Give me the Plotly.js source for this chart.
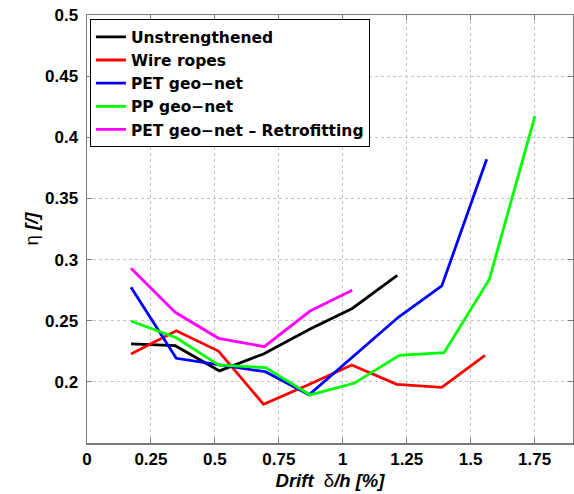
<!DOCTYPE html>
<html>
<head>
<meta charset="utf-8">
<script src="https://cdn.plot.ly/plotly-3.0.1.min.js"></script>
<style>
  html, body { margin: 0; padding: 0; background: #fff; }
  #chart { width: 574px; height: 494px; }
</style>
</head>
<body>
<div id="chart"></div>
<script>
// Drift ratio δ/h [%] and efficiency η [/] for each strengthening system
const seriesNames = ["Unstrengthened", "Wire ropes", "PET geo\u2212net", "PP geo\u2212net", "PET geo\u2212net \u2013 Retrofitting"];

const driftUnstrengthened = [0.172, 0.345, 0.518, 0.690, 0.872, 1.037, 1.213];
const etaUnstrengthened   = [0.231, 0.2296, 0.209, 0.2228, 0.2432, 0.260, 0.2871];

const driftWireRopes = [0.172, 0.349, 0.514, 0.690, 0.870, 1.035, 1.211, 1.387, 1.556];
const etaWireRopes   = [0.2228, 0.2418, 0.2252, 0.1817, 0.198, 0.2138, 0.198, 0.1955, 0.2217];

const driftPET = [0.172, 0.349, 0.518, 0.697, 0.868, 1.040, 1.217, 1.387, 1.5625];
const etaPET   = [0.2773, 0.2193, 0.2138, 0.2083, 0.1894, 0.2206, 0.2528, 0.2784, 0.382];

const driftPP = [0.172, 0.349, 0.514, 0.699, 0.872, 1.044, 1.221, 1.396, 1.573, 1.751];
const etaPP   = [0.2498, 0.2361, 0.2138, 0.2116, 0.1893, 0.1988, 0.2217, 0.2239, 0.2839, 0.4174];

const driftRetrofit = [0.172, 0.345, 0.514, 0.693, 0.872, 1.037];
const etaRetrofit   = [0.2929, 0.2569, 0.2356, 0.2288, 0.2579, 0.2749];

const xTickVals = [0, 0.25, 0.5, 0.75, 1, 1.25, 1.5, 1.75];
const xTickText = ["0", "0.25", "0.5", "0.75", "1", "1.25", "1.5", "1.75"];
const yTickVals = [0.2, 0.25, 0.3, 0.35, 0.4, 0.45, 0.5];
const yTickText = ["0.2", "0.25", "0.3", "0.35", "0.4", "0.45", "0.5"];

const colors = ["#000000", "#ff0000", "#0000ff", "#00ff00", "#ff00ff"];
const xs = [driftUnstrengthened, driftWireRopes, driftPET, driftPP, driftRetrofit];
const ys = [etaUnstrengthened, etaWireRopes, etaPET, etaPP, etaRetrofit];

const FONT = "Liberation Sans, Arial, Helvetica, sans-serif";
const LEGEND_FONT = "DejaVu Sans, Liberation Sans, sans-serif";

const traces = seriesNames.map((name, i) => ({
  x: xs[i],
  y: ys[i],
  name: "<b>" + name + "</b>",
  type: "scatter",
  mode: "lines",
  line: { color: colors[i], width: 2.8 }
}));

const axisCommon = {
  showline: true,
  linecolor: "#7a7a7a",
  linewidth: 1.5,
  mirror: "ticks",
  ticks: "inside",
  ticklen: 5,
  tickwidth: 1,
  tickcolor: "#7a7a7a",
  showgrid: true,
  gridcolor: "#c4c4c4",
  griddash: "dot",
  gridwidth: 1,
  zeroline: false,
  tickfont: { family: FONT, size: 17, color: "#000" }
};

const layout = {
  width: 574,
  height: 494,
  margin: { l: 87, r: 1, t: 15, b: 51 },
  paper_bgcolor: "#ffffff",
  plot_bgcolor: "#ffffff",
  showlegend: true,
  legend: {
    x: 0.006, y: 0.99, xanchor: "left", yanchor: "top",
    bgcolor: "#ffffff",
    bordercolor: "#000000",
    borderwidth: 1,
    font: { family: LEGEND_FONT, size: 15.5, color: "#000" },
    tracegroupgap: 0,
    itemwidth: 30
  },
  xaxis: Object.assign({}, axisCommon, {
    range: [0, 1.9],
    tickmode: "array",
    tickvals: xTickVals,
    ticktext: xTickText.map(t => "<b>" + t + "</b>"),
    title: {
      text: "<b><i>Drift</i></b>  \u03b4<b><i>/h [%]</i></b>",
      font: { family: FONT, size: 18.5, color: "#000" },
      standoff: 6
    }
  }),
  yaxis: Object.assign({}, axisCommon, {
    range: [0.15, 0.5],
    tickmode: "array",
    tickvals: yTickVals,
    ticktext: yTickText.map(t => "<b>" + t + "</b>"),
    ticklabelstandoff: 4,
    title: {
      text: "\u03b7 <b><i>[/]</i></b>",
      font: { family: FONT, size: 18.5, color: "#000" },
      standoff: 1
    }
  })
};

Plotly.newPlot("chart", traces, layout, { displayModeBar: false, staticPlot: true });
</script>
</body>
</html>
